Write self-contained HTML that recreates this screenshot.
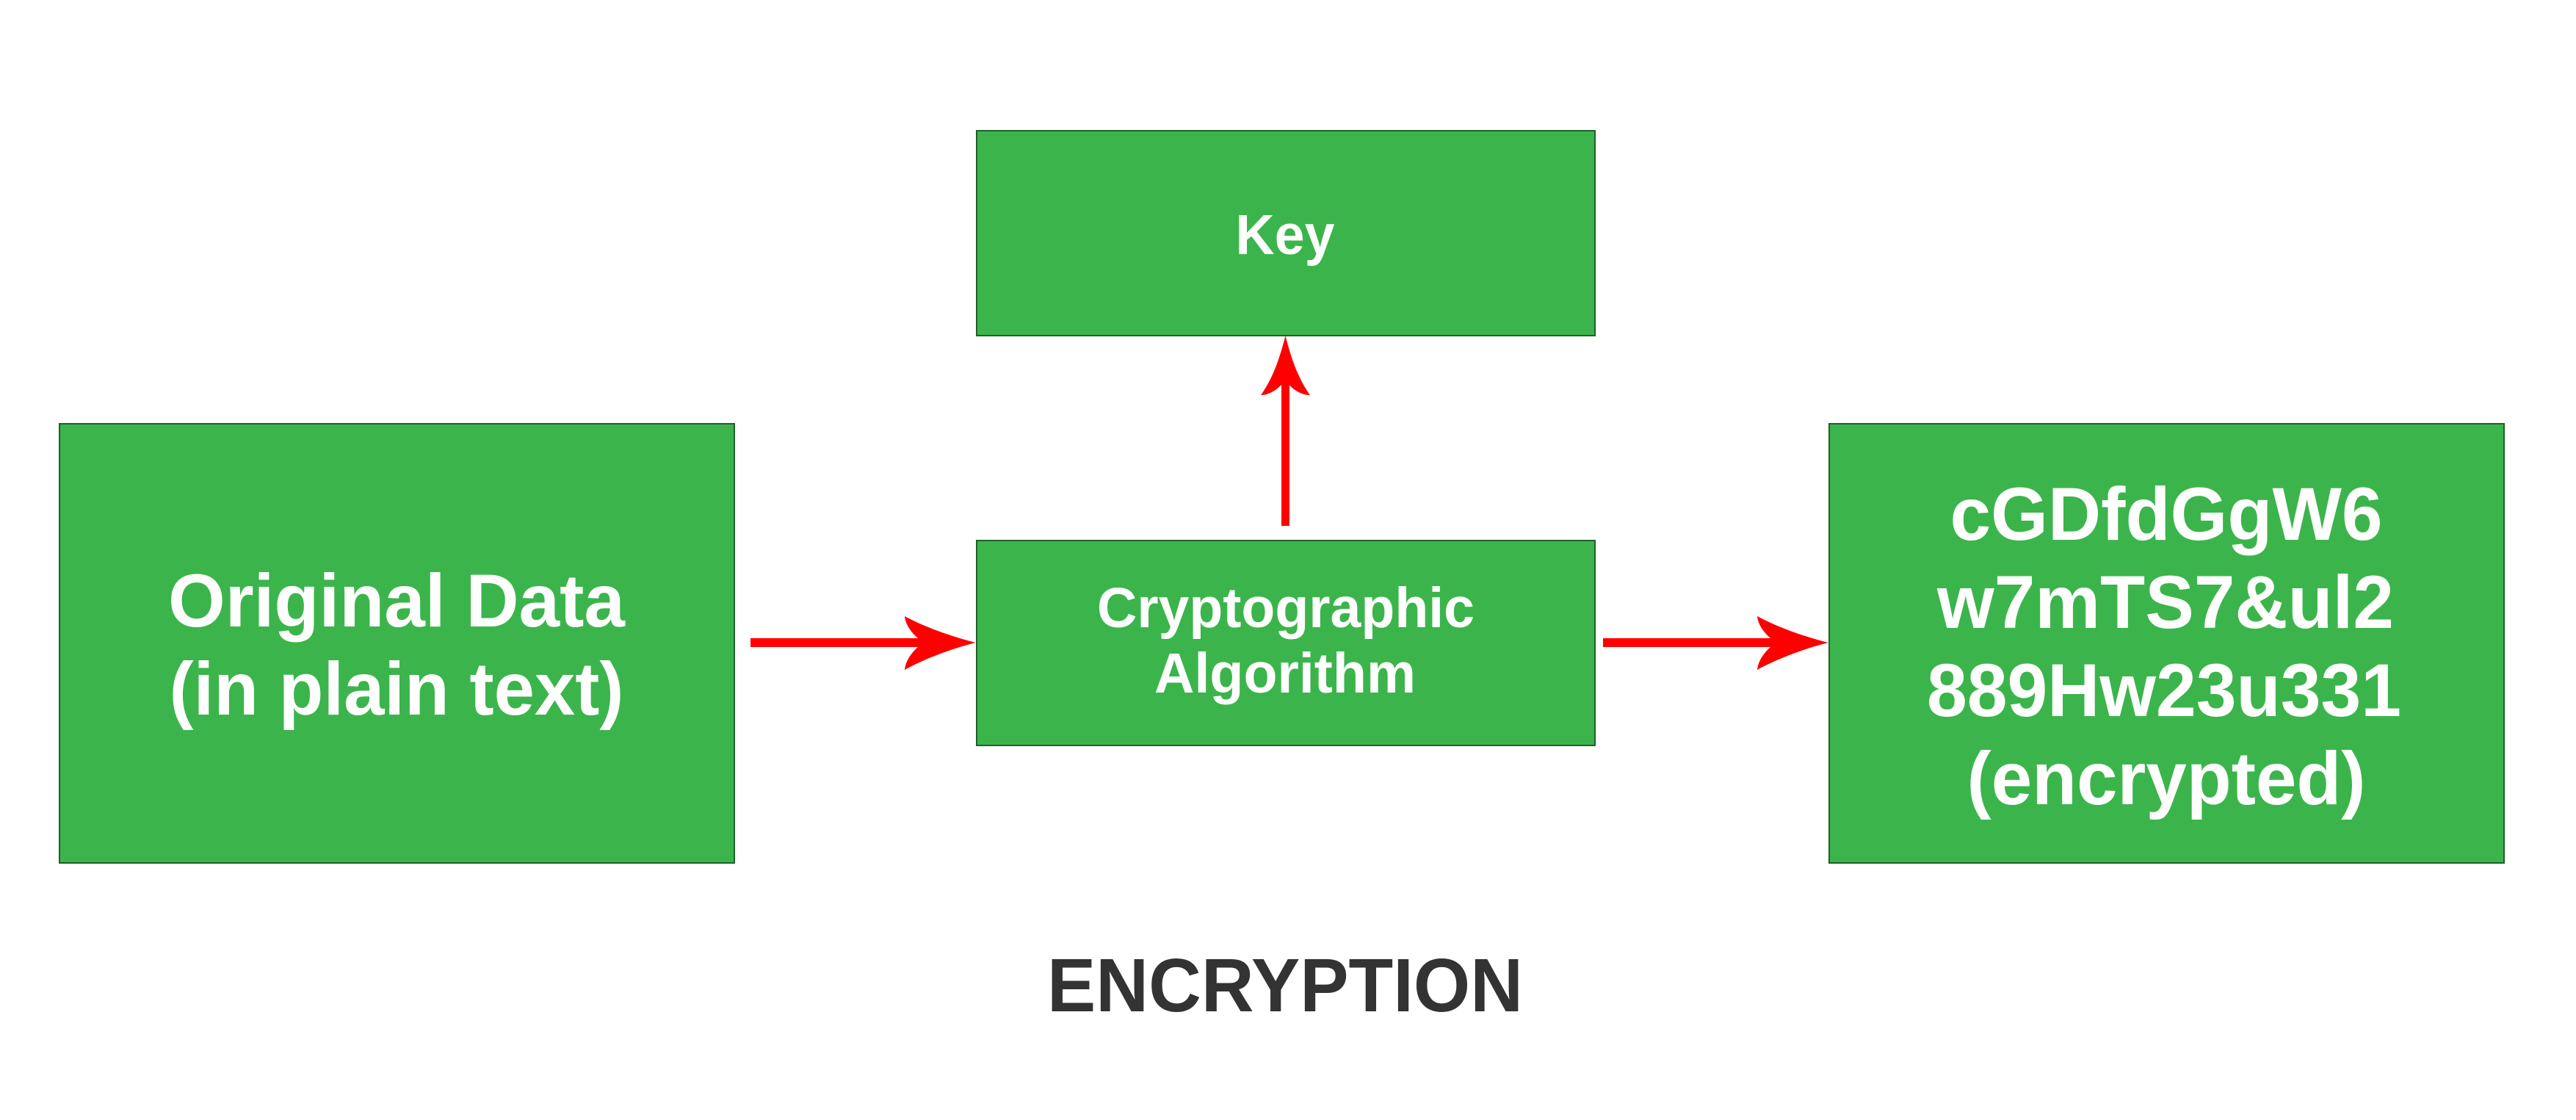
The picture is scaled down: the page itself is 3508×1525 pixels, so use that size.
<!DOCTYPE html>
<html><head><meta charset="utf-8"><style>
html,body{margin:0;padding:0;background:#fff;width:3508px;height:1525px;overflow:hidden}
svg{display:block}
text{font-family:"Liberation Sans",sans-serif;font-weight:bold;fill:#fff;text-anchor:middle}
</style></head><body>
<svg width="3508" height="1525" viewBox="0 0 3508 1525" xmlns="http://www.w3.org/2000/svg">
<rect width="3508" height="1525" fill="#fff"/>
<g fill="#3bb54b" stroke="#1f5f2a" stroke-width="2">
<rect x="81" y="577" width="919" height="598"/>
<rect x="2491" y="577" width="919" height="598"/>
<rect x="1330" y="178" width="842" height="279"/>
<rect x="1330" y="736" width="842" height="279"/>
</g>
<g fill="#f00">
<rect x="1022" y="869" width="240" height="12"/>
<path d="M1328.5 875C1290 865 1258 853 1232 839C1233 850 1240 860 1250 869V881C1240 890 1233 901 1232 912C1258 898 1290 885 1328.5 875Z"/>
<rect x="2183" y="869" width="240" height="12"/>
<path d="M2489.5 875C2451 865 2419 853 2393 839C2394 850 2401 860 2411 869V881C2401 890 2394 901 2393 912C2419 898 2451 885 2489.5 875Z"/>
<rect x="1745" y="520" width="11" height="196"/>
<path d="M1750.5 457C1760 495 1770 518 1784 538C1773 538 1763 532 1755.5 524H1745C1737 532 1727 538 1717 538C1731 518 1741 495 1750.5 457Z"/>
</g>
<text x="540" y="853" font-size="102" textLength="622" lengthAdjust="spacingAndGlyphs">Original Data</text>
<text x="540" y="973" font-size="102" textLength="619" lengthAdjust="spacingAndGlyphs">(in plain text)</text>
<text x="1750" y="346" font-size="77" textLength="135" lengthAdjust="spacingAndGlyphs">Key</text>
<text x="1751" y="854" font-size="77" textLength="514" lengthAdjust="spacingAndGlyphs">Cryptographic</text>
<text x="1750" y="943" font-size="77" textLength="356" lengthAdjust="spacingAndGlyphs">Algorithm</text>
<text x="2950" y="735" font-size="102" textLength="589" lengthAdjust="spacingAndGlyphs">cGDfdGgW6</text>
<text x="2949" y="855" font-size="102" textLength="622" lengthAdjust="spacingAndGlyphs">w7mTS7&amp;ul2</text>
<text x="2947" y="975" font-size="102" textLength="646" lengthAdjust="spacingAndGlyphs">889Hw23u331</text>
<text x="2950" y="1095" font-size="102" textLength="543" lengthAdjust="spacingAndGlyphs">(encrypted)</text>
<text x="1750" y="1377" font-size="103" textLength="648" lengthAdjust="spacingAndGlyphs" style="fill:#333">ENCRYPTION</text>
</svg>
</body></html>
